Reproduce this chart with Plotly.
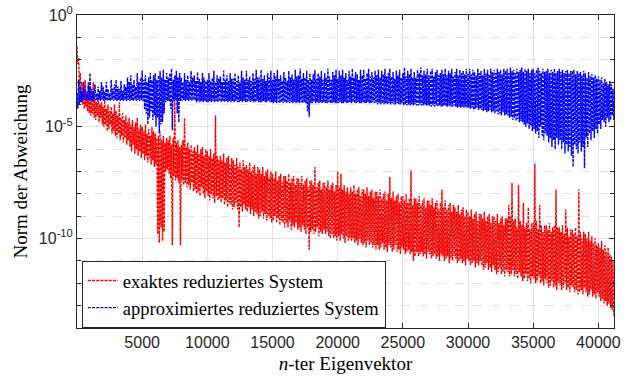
import numpy as np
import plotly.graph_objects as go

# sampled eigenvector index spacing
step = 62.5

# log10 of deviation norm, exact reduced system (alternating peaks / troughs, 16 per 1000 eigenvectors)
red_log = [
    -1.4, -2.2, -1.9, -3.3, -2.6, -3.9, -3.0, -4.0, -3.1, -4.2, -2.9, -4.1, -3.4, -4.3, -3.0, -4.4,
    -3.2, -4.5, -3.7, -4.4, -3.0, -4.6, -3.8, -4.7, -3.9, -4.5, -3.6, -4.8, -4.0, -4.6, -3.9, -4.9,
    -4.1, -5.0, -3.8, -4.9, -4.2, -5.2, -4.0, -5.1, -4.3, -4.9, -4.1, -5.3, -4.4, -5.2, -4.0, -5.4,
    -4.3, -5.5, -4.5, -5.3, -3.9, -5.6, -4.6, -5.4, -4.4, -5.7, -4.7, -5.5, -4.5, -5.8, -4.8, -5.6,
    -4.6, -5.9, -4.9, -6.1, -4.7, -5.8, -5.0, -6.2, -4.8, -6.0, -4.6, -6.3, -5.1, -6.1, -4.9, -6.4,
    -5.0, -6.2, -5.2, -6.5, -4.9, -6.3, -5.3, -6.6, -5.1, -6.4, -5.4, -6.7, -5.0, -6.5, -5.2, -6.8,
    -5.3, -6.7, -5.5, -9.8, -5.4, -10.2, -5.2, -9.5, -5.6, -10.1, -5.4, -9.7, -5.7, -7.0, -5.5, -6.9,
    -5.6, -7.1, -5.4, -7.3, -5.8, -10.3, -5.5, -7.2, -3.8, -7.4, -5.7, -7.3, -5.6, -7.5, -5.9, -10.3,
    -5.8, -7.4, -5.6, -7.6, -4.6, -7.5, -5.9, -7.7, -5.7, -7.6, -6.0, -7.8, -5.8, -7.5, -6.1, -7.9,
    -5.9, -7.8, -6.1, -8.0, -5.8, -7.9, -6.2, -8.1, -6.0, -7.7, -5.9, -8.0, -6.3, -8.2, -6.0, -7.9,
    -6.1, -8.1, -6.3, -8.3, -6.0, -8.0, -6.4, -8.2, -6.2, -8.4, -4.5, -8.1, -6.3, -8.3, -6.5, -8.2,
    -6.3, -8.4, -6.5, -8.2, -6.2, -8.5, -6.6, -8.3, -6.4, -8.6, -6.3, -8.4, -6.7, -8.5, -6.4, -8.7,
    -6.5, -8.6, -6.7, -8.4, -6.4, -8.7, -6.8, -9.5, -6.6, -8.6, -6.9, -8.8, -6.5, -8.5, -6.8, -8.7,
    -6.7, -8.8, -6.9, -8.6, -6.6, -8.9, -7.0, -8.7, -6.8, -9.0, -6.7, -8.8, -7.1, -8.9, -6.8, -9.1,
    -6.9, -9.0, -7.1, -8.8, -6.8, -9.1, -7.2, -8.9, -7.0, -9.2, -6.9, -9.0, -7.3, -9.1, -7.0, -9.3,
    -7.1, -9.2, -7.3, -9.0, -7.0, -9.3, -7.4, -9.1, -7.2, -9.4, -7.1, -9.2, -7.5, -9.3, -7.2, -9.5,
    -7.2, -9.3, -7.4, -9.5, -7.1, -9.2, -7.5, -9.6, -7.3, -9.4, -7.2, -9.5, -7.6, -9.3, -7.3, -9.6,
    -7.3, -9.5, -7.5, -9.7, -7.2, -9.4, -7.6, -9.6, -7.4, -9.8, -7.3, -9.5, -7.7, -10.5, -7.4, -9.7,
    -7.4, -9.6, -7.6, -9.8, -6.8, -9.7, -7.7, -9.5, -7.5, -9.9, -7.4, -9.7, -7.8, -9.8, -7.5, -9.6,
    -7.5, -9.8, -7.7, -9.7, -7.4, -9.9, -7.8, -10.0, -7.6, -9.8, -7.5, -10.0, -7.9, -9.9, -7.6, -10.1,
    -7.0, -9.9, -7.7, -10.1, -7.1, -9.8, -7.8, -10.0, -7.6, -10.2, -7.9, -9.9, -7.7, -10.1, -8.0, -10.0,
    -7.7, -10.1, -7.9, -10.0, -7.6, -10.2, -8.0, -10.1, -7.8, -10.3, -7.7, -10.0, -8.1, -10.2, -7.8, -10.3,
    -7.8, -10.2, -8.0, -10.4, -7.7, -10.1, -8.1, -10.3, -7.9, -10.2, -7.8, -10.4, -8.2, -10.3, -7.9, -10.5,
    -7.9, -10.3, -8.1, -10.5, -7.8, -10.4, -8.2, -10.2, -8.0, -10.5, -7.9, -10.4, -8.3, -10.6, -8.0, -10.3,
    -7.25, -10.4, -8.2, -10.6, -7.9, -10.5, -8.3, -10.3, -8.1, -10.6, -8.0, -10.5, -8.4, -10.7, -8.1, -10.4,
    -8.1, -10.5, -8.3, -10.7, -8.0, -10.6, -8.4, -10.5, -8.2, -10.7, -6.95, -10.6, -8.5, -11.0, -8.2, -10.8,
    -8.2, -10.6, -8.4, -10.8, -8.1, -10.7, -8.5, -10.6, -8.3, -10.8, -8.2, -10.7, -8.6, -10.9, -8.3, -10.6,
    -8.3, -10.7, -8.5, -10.9, -8.2, -10.8, -8.6, -10.7, -8.4, -10.9, -8.3, -10.8, -8.7, -11.0, -8.4, -10.7,
    -7.8, -10.8, -8.6, -11.0, -8.3, -10.9, -8.7, -10.8, -8.5, -11.1, -8.4, -10.9, -8.8, -11.0, -8.5, -10.8,
    -8.6, -10.9, -8.8, -11.1, -8.5, -11.0, -8.9, -10.9, -8.7, -11.1, -8.6, -11.0, -9.0, -11.2, -8.7, -10.9,
    -8.8, -11.0, -9.0, -11.2, -8.7, -11.1, -9.1, -11.0, -8.9, -11.3, -8.8, -11.1, -9.2, -11.2, -8.9, -11.0,
    -8.9, -11.2, -9.1, -11.4, -8.8, -11.3, -9.2, -11.1, -9.0, -11.4, -8.9, -11.3, -9.3, -11.5, -9.0, -11.2,
    -9.0, -11.4, -9.2, -11.6, -8.9, -11.5, -9.3, -11.3, -9.1, -11.6, -9.0, -11.5, -9.4, -11.7, -9.1, -11.4,
    -9.1, -11.5, -8.5, -11.7, -9.0, -11.6, -7.5, -11.4, -9.2, -11.7, -9.1, -11.6, -9.5, -11.8, -7.6, -11.5,
    -9.2, -11.7, -9.4, -11.9, -8.4, -11.8, -9.5, -11.6, -9.3, -11.9, -8.6, -11.8, -9.6, -12.0, -9.3, -11.7,
    -9.3, -11.8, -6.65, -12.0, -9.2, -11.9, -9.6, -11.7, -8.5, -12.0, -9.4, -11.9, -9.7, -12.1, -9.4, -11.8,
    -9.4, -12.0, -9.6, -12.2, -9.3, -12.1, -9.7, -11.9, -9.5, -12.2, -9.4, -12.1, -7.8, -12.3, -9.5, -12.0,
    -9.5, -12.1, -9.7, -12.3, -9.4, -12.2, -9.8, -12.0, -8.7, -12.3, -9.5, -12.2, -9.9, -12.4, -9.6, -12.1,
    -9.6, -12.2, -9.8, -12.4, -9.5, -12.3, -9.9, -12.5, -7.8, -12.4, -9.7, -12.3, -10.0, -12.5, -9.7, -12.2,
    -9.8, -12.4, -10.0, -12.6, -9.7, -12.5, -10.1, -12.3, -9.9, -12.6, -10.2, -12.5, -10.0, -12.7, -10.3, -12.4,
    -10.2, -12.6, -10.4, -12.8, -10.1, -12.7, -10.5, -12.9, -10.3, -12.8, -10.6, -13.0, -10.4, -12.9, -10.7, -13.1,
    -10.8, -13.2, -11.0, -13.4, -13.5,
]

# log10 of deviation norm, approximated reduced system
blue_log = [
    -3.5, -4.2, -2.9, -4.0, -3.2, -3.9, -3.4, -3.85, -3.0, -3.8, -3.3, -3.85, -3.5, -3.8, -3.1, -3.85,
    -2.6, -3.85, -3.3, -3.8, -3.4, -3.85, -3.1, -3.8, -3.5, -3.85, -3.2, -3.8, -3.4, -3.85, -3.0, -3.8,
    -3.2, -3.85, -3.4, -3.8, -3.0, -3.85, -3.3, -3.8, -3.5, -3.85, -2.9, -3.8, -3.3, -3.85, -3.1, -3.8,
    -2.9, -3.85, -3.2, -3.8, -3.3, -3.85, -2.95, -3.8, -3.4, -3.85, -3.1, -3.8, -3.2, -3.85, -2.8, -3.8,
    -3.0, -3.85, -2.7, -3.8, -3.1, -3.85, -2.9, -3.8, -3.2, -3.85, -2.6, -3.8, -3.0, -3.85, -2.8, -3.8,
    -2.5, -3.85, -2.9, -4.2, -2.7, -4.4, -3.0, -4.9, -2.8, -4.6, -2.6, -4.3, -2.9, -4.7, -2.7, -4.5,
    -2.6, -5.0, -2.9, -4.6, -2.7, -5.3, -2.5, -4.9, -2.8, -4.8, -2.45, -4.4, -2.9, -3.9, -2.6, -3.85,
    -2.8, -3.85, -2.6, -4.2, -2.4, -5.15, -2.9, -3.85, -2.7, -3.8, -2.5, -4.4, -2.8, -4.8, -2.6, -3.85,
    -2.8, -3.85, -3.0, -3.8, -2.6, -3.85, -2.9, -3.8, -2.7, -3.85, -3.0, -3.8, -2.5, -3.85, -2.8, -3.8,
    -2.7, -3.85, -2.95, -3.9, -2.55, -3.85, -2.85, -3.9, -3.0, -3.85, -2.6, -3.9, -2.8, -3.85, -2.95, -3.9,
    -2.9, -3.9, -2.6, -3.85, -2.95, -3.9, -2.8, -3.85, -2.5, -3.9, -3.0, -3.85, -2.7, -3.9, -2.85, -3.85,
    -2.75, -3.9, -3.0, -3.85, -2.5, -3.9, -2.9, -3.85, -2.7, -3.9, -2.95, -3.85, -2.6, -3.9, -2.85, -3.85,
    -2.85, -3.9, -2.6, -3.85, -2.95, -3.9, -2.7, -3.9, -3.0, -3.85, -2.5, -3.9, -2.8, -3.85, -2.9, -3.9,
    -2.5, -3.9, -2.9, -3.85, -2.75, -3.9, -2.95, -3.85, -2.6, -3.9, -2.85, -3.9, -2.45, -3.85, -2.8, -3.9,
    -2.8, -3.9, -2.45, -3.9, -2.85, -3.85, -2.7, -3.9, -2.95, -3.9, -2.6, -3.85, -2.8, -3.9, -2.5, -3.9,
    -2.9, -3.95, -2.6, -3.9, -2.75, -3.95, -2.45, -3.9, -2.85, -3.95, -2.7, -3.9, -2.95, -3.95, -2.55, -3.9,
    -2.8, -3.95, -2.95, -3.9, -2.5, -3.95, -2.8, -3.9, -2.65, -3.95, -2.9, -3.9, -2.45, -3.95, -2.75, -3.9,
    -2.7, -3.95, -2.4, -3.9, -2.85, -3.95, -2.6, -3.9, -2.8, -3.95, -2.5, -4.3, -2.9, -4.55, -2.6, -3.95,
    -2.9, -3.95, -2.65, -3.9, -2.45, -3.95, -2.85, -3.9, -2.6, -3.95, -2.75, -3.9, -2.5, -3.95, -2.9, -3.9,
    -2.6, -3.95, -2.8, -3.95, -2.4, -3.9, -2.75, -3.95, -2.9, -3.95, -2.55, -3.9, -2.7, -3.95, -2.45, -3.95,
    -2.85, -3.95, -2.5, -3.9, -2.7, -3.95, -2.45, -3.95, -2.8, -3.9, -2.6, -3.95, -2.9, -3.95, -2.5, -3.9,
    -2.75, -3.95, -2.4, -3.9, -2.8, -3.95, -2.55, -3.95, -2.65, -3.9, -2.9, -3.95, -2.45, -3.95, -2.7, -3.9,
    -2.45, -3.95, -2.85, -3.95, -2.6, -3.9, -2.4, -3.95, -2.75, -3.95, -2.55, -3.9, -2.8, -3.95, -2.5, -3.95,
    -2.7, -4.0, -2.45, -3.95, -2.8, -4.0, -2.5, -3.95, -2.65, -4.0, -2.4, -3.95, -2.75, -4.0, -2.6, -3.95,
    -2.4, -4.0, -2.75, -3.95, -2.55, -4.0, -2.85, -4.0, -2.5, -3.95, -2.7, -4.0, -2.45, -4.0, -2.8, -3.95,
    -2.6, -4.05, -2.35, -4.0, -2.75, -4.05, -2.5, -4.0, -2.65, -4.05, -2.4, -4.0, -2.8, -4.05, -2.55, -4.0,
    -2.8, -4.05, -2.45, -4.05, -2.6, -4.0, -2.35, -4.05, -2.7, -4.05, -2.5, -4.0, -2.65, -4.05, -2.4, -4.05,
    -2.7, -4.05, -2.5, -4.1, -2.4, -4.05, -2.75, -4.1, -2.55, -4.05, -2.45, -4.1, -2.7, -4.05, -2.6, -4.1,
    -2.45, -4.1, -2.65, -4.05, -2.4, -4.1, -2.7, -4.1, -2.5, -4.05, -2.6, -4.1, -2.4, -4.1, -2.75, -4.05,
    -2.55, -4.1, -2.4, -4.15, -2.7, -4.1, -2.45, -4.15, -2.6, -4.1, -2.5, -4.15, -2.65, -4.1, -2.4, -4.15,
    -2.6, -4.15, -2.4, -4.2, -2.65, -4.15, -2.45, -4.25, -2.55, -4.2, -2.7, -4.15, -2.4, -4.25, -2.6, -4.2,
    -2.5, -4.25, -2.7, -4.3, -2.4, -4.25, -2.6, -4.35, -2.45, -4.3, -2.65, -4.25, -2.4, -4.35, -2.55, -4.3,
    -2.45, -4.4, -2.6, -4.3, -2.4, -4.45, -2.55, -4.4, -2.45, -4.5, -2.65, -4.35, -2.4, -4.5, -2.5, -4.45,
    -2.4, -4.5, -2.6, -4.6, -2.35, -4.55, -2.5, -4.7, -2.45, -4.6, -2.6, -4.75, -2.4, -4.65, -2.55, -4.8,
    -2.45, -4.75, -2.35, -4.8, -2.55, -4.9, -2.4, -5.0, -2.5, -4.85, -2.4, -5.1, -2.6, -4.95, -2.45, -5.2,
    -2.4, -5.1, -2.6, -5.3, -2.45, -5.2, -2.35, -5.5, -2.5, -5.0, -2.6, -5.4, -2.4, -5.6, -2.55, -5.3,
    -2.5, -5.4, -2.4, -5.7, -2.6, -5.5, -2.45, -5.9, -2.55, -5.6, -2.4, -6.0, -2.6, -5.5, -2.5, -5.8,
    -2.4, -5.6, -2.55, -6.0, -2.45, -5.7, -2.6, -6.2, -2.5, -5.8, -2.45, -6.1, -2.6, -5.9, -2.5, -6.3,
    -2.5, -6.8, -2.45, -5.8, -2.65, -6.0, -2.5, -6.2, -2.6, -5.7, -2.55, -6.1, -2.7, -5.9, -2.5, -6.85,
    -2.6, -5.5, -2.8, -5.9, -2.55, -5.3, -2.75, -5.6, -2.65, -5.2, -2.8, -5.5, -2.7, -5.1, -2.85, -5.3,
    -2.75, -4.9, -2.9, -5.1, -2.8, -4.7, -3.05, -4.8, -2.85, -5.0, -3.0, -4.6, -3.1, -4.8, -2.95, -4.7,
    -3.1, -4.5, -3.3, -4.7, -3.8,
]

x_tick_vals = [5000, 10000, 15000, 20000, 25000, 30000, 35000, 40000]
x_tick_text = ["5000", "10000", "15000", "20000", "25000", "30000", "35000", "40000"]
y_tick_vals = [1e-10, 1e-5, 1e0]
y_tick_text = ["10<sup>-10</sup>", "10<sup>-5</sup>", "10<sup>0</sup>"]
y_decades = [10.0 ** (-k) for k in range(0, 15)]

series_names = ["exaktes reduziertes System", "approximiertes reduziertes System"]

x_red = np.arange(len(red_log)) * step
x_blue = np.arange(len(blue_log)) * step
y_red = 10.0 ** np.array(red_log)
y_blue = 10.0 ** np.array(blue_log)

fig = go.Figure()
fig.add_trace(go.Scatter(x=x_red, y=y_red, mode="lines", name=series_names[0],
                         line=dict(color="#ff0000", width=1.4, dash="3px,1.2px")))
fig.add_trace(go.Scatter(x=x_blue, y=y_blue, mode="lines", name=series_names[1],
                         line=dict(color="#0000ff", width=1.4, dash="3px,1.2px")))

axis_col = "#262626"
grid_col = "#e3e3e3"
tick_font = dict(family="Liberation Sans", size=16, color=axis_col)
serif = "Liberation Serif"

fig.update_layout(
    width=633, height=376,
    margin=dict(l=77, r=19, t=15, b=48),
    paper_bgcolor="white", plot_bgcolor="white",
    showlegend=True,
    legend=dict(x=0.009, y=0.0, xanchor="left", yanchor="bottom",
                bgcolor="white", bordercolor="#262626", borderwidth=1,
                font=dict(family=serif, size=18.5, color="black"),
                itemwidth=30, tracegroupgap=0),
    xaxis=dict(range=[0, 41200], tickmode="array", tickvals=x_tick_vals, ticktext=x_tick_text,
               ticks="inside", ticklen=5, tickcolor=axis_col, showline=True, linecolor=axis_col,
               linewidth=1, mirror="allticks", showgrid=True, gridcolor=grid_col, gridwidth=1,
               zeroline=False, tickfont=tick_font, automargin=False,
               title=dict(text="<i>n</i>-ter Eigenvektor", font=dict(family=serif, size=19, color="black"),
                          standoff=6)),
    yaxis=dict(type="log", range=[-14, 0], tickmode="array", tickvals=y_tick_vals, ticktext=y_tick_text,
               ticks="inside", ticklen=5, tickcolor=axis_col, showline=True, linecolor=axis_col,
               linewidth=1, mirror="allticks", showgrid=True, gridcolor=grid_col, gridwidth=1,
               zeroline=False, tickfont=tick_font, automargin=False,
               minor=dict(tickmode="array", tickvals=y_decades, ticks="inside", ticklen=4,
                          tickcolor=axis_col, showgrid=True, gridcolor=grid_col, griddash="dash"),
               title=dict(text="Norm der Abweichung", font=dict(family=serif, size=19, color="black"),
                          standoff=6)),
)

fig.write_html("out.html")
